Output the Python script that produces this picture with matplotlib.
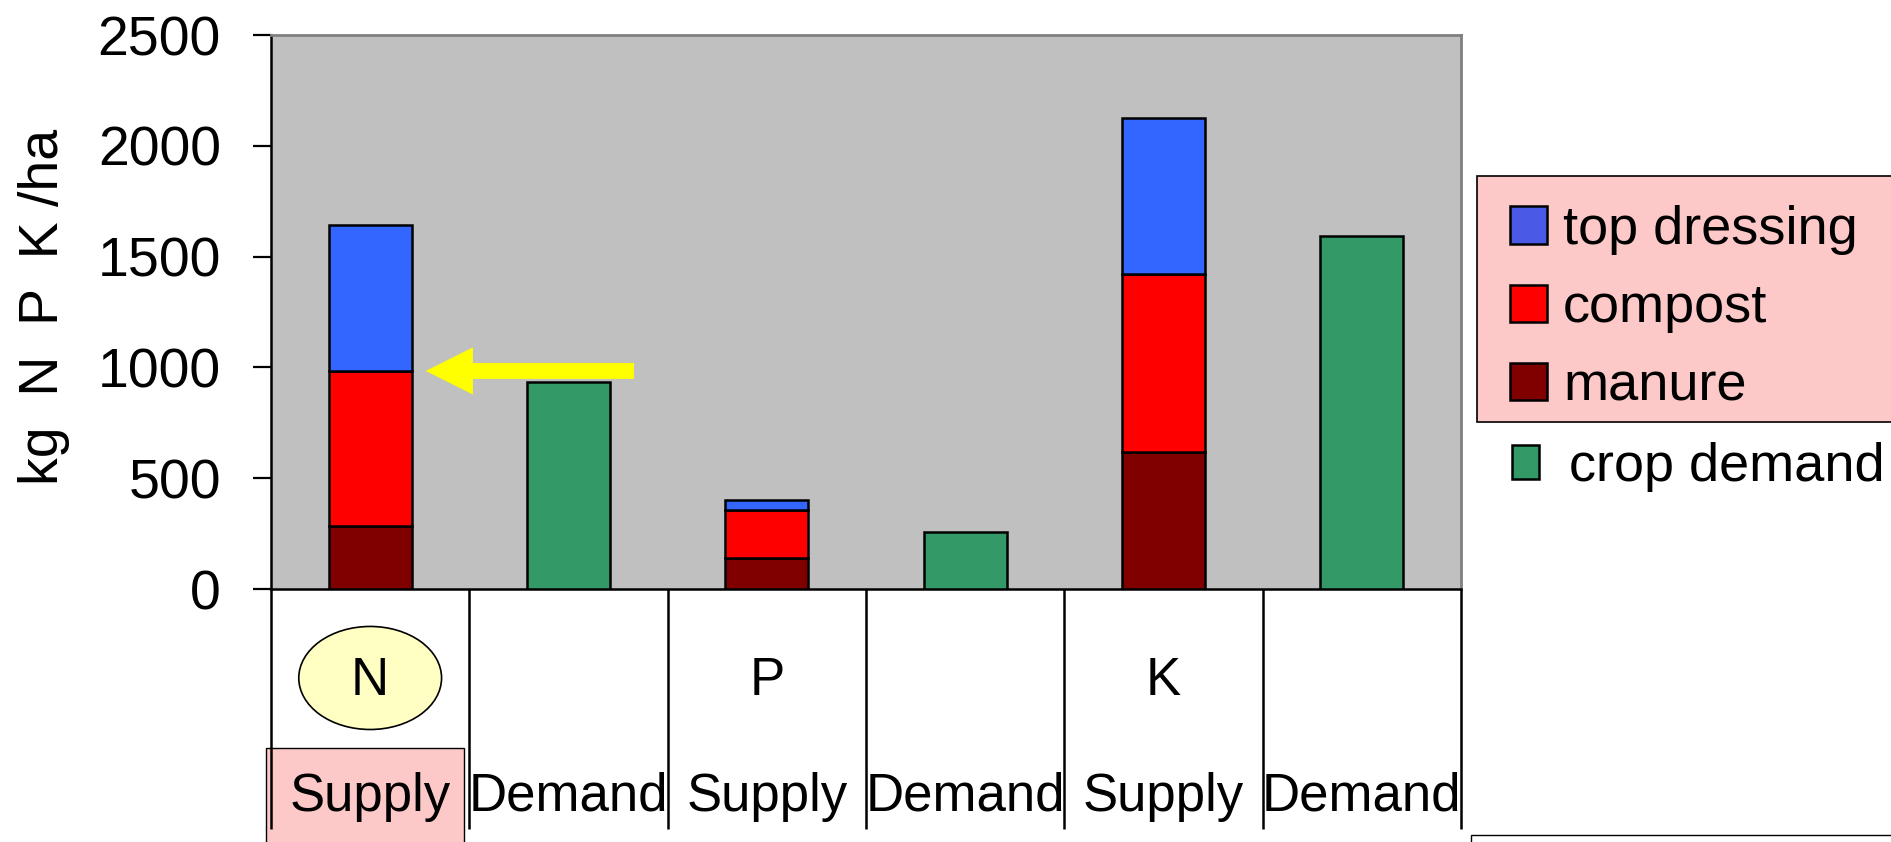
import matplotlib.pyplot as plt
import numpy as np
from matplotlib.patches import Rectangle, Ellipse, Patch, FancyArrowPatch, ArrowStyle

plt.rcParams['font.family'] = ['Liberation Sans', 'DejaVu Sans']

# columns of the chart, left to right
columns = ['Supply', 'Demand', 'Supply', 'Demand', 'Supply', 'Demand']
nutrients = ['N', 'P', 'K']

# kg/ha (supply columns)
manure = [284, 140, 620]
compost = [700, 217, 801]
top_dressing = [659, 44, 703]
# demand columns
crop_demand = [934, 257, 1591]

yticks = [0, 500, 1000, 1500, 2000, 2500]

W, H = 1891, 842
fs = 38

fig = plt.figure(figsize=(W / 100, H / 100), dpi=100)
ax = fig.add_axes([271 / W, 1 - 589 / H, 1190 / W, 554 / H])
ax.set_facecolor('#c0c0c0')

x = np.arange(len(columns))
sup = x[[c == 'Supply' for c in columns]]
dem = x[[c == 'Demand' for c in columns]]

kw = dict(width=0.42, edgecolor='black', linewidth=1.8, zorder=3)
ax.bar(sup, manure, color='#800000', **kw)
bottom = np.array(manure)
ax.bar(sup, compost, bottom=bottom, color='#ff0000', **kw)
bottom = bottom + np.array(compost)
ax.bar(sup, top_dressing, bottom=bottom, color='#3366ff', **kw)
ax.bar(dem, crop_demand, color='#339966', **kw)

ax.set_xlim(-0.5, len(columns) - 0.5)
ax.set_ylim(0, 2500)
ax.set_yticks(yticks)
ax.set_xticks([])
ax.tick_params(axis='y', direction='out', length=13, width=1.6, pad=23, labelsize=40)

for s in ['left', 'bottom']:
    ax.spines[s].set_color('black')
    ax.spines[s].set_linewidth(1.8)
for s in ['top', 'right']:
    ax.spines[s].set_color('#808080')
    ax.spines[s].set_linewidth(2)

ax.set_ylabel('kg  N  P  K /ha', fontsize=40)
ax.yaxis.set_label_coords(-0.169, 0.51)

# the category "table" below the axis
trans = ax.get_xaxis_transform()
ax.vlines(np.arange(len(columns) + 1) - 0.5, -0.433, 0, transform=trans,
          colors='black', lw=1.8, clip_on=False, zorder=4)
ax.add_patch(Rectangle((-0.525, -0.6), 0.998, 0.313, transform=trans, clip_on=False,
                       facecolor='#fcc8c8', edgecolor='black', lw=1.0, zorder=1))
for i, c in enumerate(columns):
    ax.text(i, -0.4007, c, transform=trans, ha='center', va='baseline', fontsize=fs)
for i, n in zip(sup, nutrients):
    ax.text(i, -0.1913, n, transform=trans, ha='center', va='baseline', fontsize=fs, zorder=5)
ax.add_patch(Ellipse((sup[0], -0.1606), 0.72, 0.186, transform=trans, clip_on=False,
                     facecolor='#ffffc4', edgecolor='black', lw=1.2, zorder=2))

# yellow arrow pointing at the N compost level
lvl = manure[0] + compost[0]
ax.add_patch(FancyArrowPatch((1.33, lvl), (0.28, lvl),
                             arrowstyle=ArrowStyle.Simple(head_length=3.4, head_width=3.4, tail_width=1.15),
                             mutation_scale=10, color='#ffff00', lw=0,
                             shrinkA=0, shrinkB=0, zorder=5))

# legend
fig.add_artist(Rectangle((1477 / W, 1 - 422 / H), 0.5, (422 - 176) / H, transform=fig.transFigure,
                         facecolor='#fcc8c8', edgecolor='black', lw=1.2))
handles = [Patch(facecolor='#4a5ae6', edgecolor='black', lw=1.8),
           Patch(facecolor='#ff0000', edgecolor='black', lw=1.8),
           Patch(facecolor='#800000', edgecolor='black', lw=1.8)]
fig.legend(handles, ['top dressing', 'compost', 'manure'], loc='upper left',
           bbox_to_anchor=(1510 / W, 1 - 205 / H), frameon=False, fontsize=39,
           handlelength=0.68, handleheight=0.68, handletextpad=0.3, labelspacing=0.52,
           borderpad=0, borderaxespad=0)
fig.legend([Patch(facecolor='#339966', edgecolor='black', lw=1.8)], ['crop demand'],
           loc='upper left', bbox_to_anchor=(1512 / W, 1 - 442 / H), frameon=False,
           fontsize=39, handlelength=0.5, handleheight=0.6, handletextpad=0.55,
           borderpad=0, borderaxespad=0)

fig.add_artist(Rectangle((1471 / W, 1 - 900 / H), 0.5, (900 - 835) / H, transform=fig.transFigure,
                         facecolor='white', edgecolor='black', lw=1.0))

fig.savefig('out.png', dpi=100)
